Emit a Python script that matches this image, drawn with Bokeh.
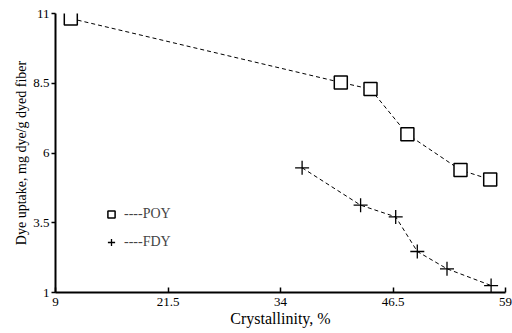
from bokeh.plotting import figure
from bokeh.models import FixedTicker, Legend, LegendItem, Range1d
from bokeh.embed import file_html
from bokeh.resources import INLINE

poy_x = [10.7, 40.7, 44.0, 48.1, 54.0, 57.3]
poy_y = [10.82, 8.53, 8.29, 6.67, 5.39, 5.05]
fdy_x = [36.4, 42.9, 46.8, 49.2, 52.5, 57.4]
fdy_y = [5.47, 4.13, 3.71, 2.47, 1.85, 1.25]
x_ticks = [9, 21.5, 34, 46.5, 59]
y_ticks = [1, 3.5, 6, 8.5, 11]

FONT = "Liberation Serif"

p = figure(width=512, height=333, output_backend="svg", toolbar_location=None,
           x_range=Range1d(9, 59), y_range=Range1d(1, 11),
           min_border_left=55, min_border_right=7, min_border_top=13, min_border_bottom=41)
p.outline_line_color = None
p.xgrid.visible = False
p.ygrid.visible = False

p.line(poy_x, poy_y, line_color="black", line_dash="4 3", line_width=1)
r1 = p.scatter(poy_x, poy_y, marker="square", size=13, fill_color="white",
               line_color="black", line_width=1.5)
p.line(fdy_x, fdy_y, line_color="black", line_dash="4 3", line_width=1)
r2 = p.scatter(fdy_x, fdy_y, marker="cross", size=14, line_color="black", line_width=1.3)

for ax, ticks in ((p.xaxis[0], x_ticks), (p.yaxis[0], y_ticks)):
    ax.ticker = FixedTicker(ticks=ticks)
    ax.axis_line_width = 2
    ax.axis_line_color = "black"
    ax.major_tick_line_color = "black"
    ax.major_tick_line_width = 1.5
    ax.minor_tick_line_color = None
    ax.major_label_text_font = FONT
    ax.major_label_text_font_size = "13px"
    ax.major_label_text_color = "black"
    ax.axis_label_text_font = FONT
    ax.axis_label_text_font_style = "normal"
    ax.axis_label_text_color = "black"

p.xaxis.axis_label_text_font_size = "16px"
p.yaxis.axis_label_text_font_size = "14px"
p.xaxis.major_tick_in = 5
p.xaxis.major_tick_out = 0
p.yaxis.major_tick_in = 0
p.yaxis.major_tick_out = 4
p.xaxis.major_label_standoff = 5
p.yaxis.major_label_standoff = 2
p.xaxis.axis_label = "Crystallinity, %"
p.yaxis.axis_label = "Dye uptake, mg dye/g dyed fiber"
p.xaxis.axis_label_standoff = 1
p.yaxis.axis_label_standoff = 1

legend = Legend(items=[LegendItem(label="----POY", renderers=[r1]),
                       LegendItem(label="----FDY", renderers=[r2])],
                location=(47, 41), border_line_color=None, background_fill_alpha=0,
                label_text_font=FONT, label_text_font_size="14px",
                glyph_width=18, glyph_height=18, spacing=10, padding=2,
                label_standoff=4)
p.add_layout(legend)

open("out.html", "w").write(file_html(p, INLINE))
